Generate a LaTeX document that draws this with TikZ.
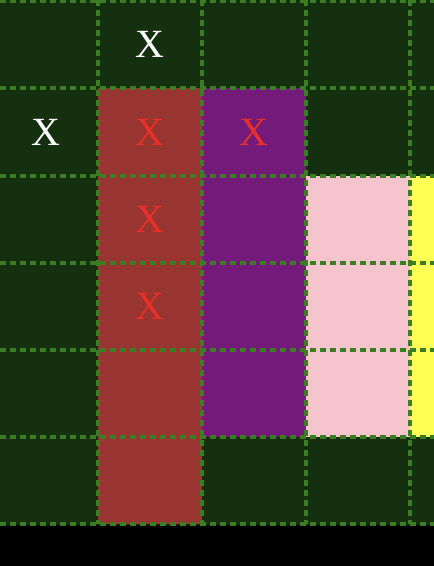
\documentclass[tikz,border=0pt]{standalone}
\usepackage{fontspec}
\setmainfont{Liberation Serif}
\definecolor{bgdark}{RGB}{20,48,15}
\definecolor{gridgreen}{RGB}{58,125,34}
\definecolor{cellred}{RGB}{152,53,48}
\definecolor{cellpurple}{RGB}{115,26,122}
\definecolor{cellpink}{RGB}{245,196,204}
\definecolor{cellyellow}{RGB}{255,255,85}
\definecolor{markred}{RGB}{232,48,40}
\tikzset{
  gridline/.style={draw=gridgreen, line width=2.4pt, dash pattern=on 4.5pt off 3pt},
  markwhite/.style={text=white, font=\fontsize{30}{30}\selectfont, inner sep=0pt},
  markredx/.style={text=markred, font=\fontsize{30}{30}\selectfont, inner sep=0pt}
}
\begin{document}
\begin{tikzpicture}[x=0.75pt, y=-0.75pt]
\useasboundingbox (0,0) rectangle (434,566);
\fill[black] (0,0) rectangle (434,566);
\fill[bgdark] (0,0) rectangle (434,525);
\fill[cellred] (98,88) rectangle (202,524);
\fill[cellpurple] (202,88) rectangle (306,437);
\fill[cellpink] (306,176) rectangle (410,437);
\fill[cellyellow] (410,176) rectangle (434,437);
\foreach \x in {98,202,306,410} {
  \draw[gridline] (\x,0) -- (\x,524);
}
\foreach \y in {1,88,176,263,350,437,524} {
  \draw[gridline] (0,\y) -- (434,\y);
}
\node[markwhite] (w1) at (150,44) {X};
\node[markwhite] (w2) at (46,132) {X};
\node[markredx] (r1) at (150,132) {X};
\node[markredx] (r2) at (254,132) {X};
\node[markredx] (r3) at (150,219) {X};
\node[markredx] (r4) at (150,306) {X};
\end{tikzpicture}
\end{document}
